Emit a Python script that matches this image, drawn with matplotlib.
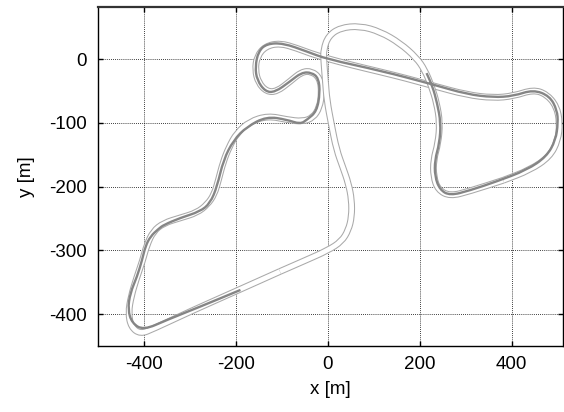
import matplotlib
matplotlib.use("Agg")
import matplotlib.pyplot as plt
import matplotlib.patheffects as pe
from matplotlib.path import Path
from matplotlib.patches import PathPatch
import numpy as np

plt.rcParams['font.family'] = ['Liberation Sans', 'DejaVu Sans']
plt.rcParams['axes.unicode_minus'] = False

# track centre line, part 1: bottom straight -> hairpin -> S-curves -> loop -> long straight -> right hairpin
track_a_x = [-104, -200, -300, -380, -408, -428, -434, -428, -416, -403, -394, -380, -357, -321,
             -285, -262, -247, -238, -228, -215, -198, -170, -130, -89, -55, -32, -18, -13, -17,
             -35, -57, -82, -111, -133, -151, -158, -154, -136, -104, -67, -38, -2, 50, 114, 170,
             230, 302, 360, 404, 447, 476, 498, 505, 501, 483, 440, 382]
track_a_y = [-333, -364, -396, -423, -431, -420, -398, -372, -343, -316, -292, -270, -257, -249,
             -241, -228, -212, -190, -162, -138, -116, -98, -89, -95, -98, -92, -76, -53, -30,
             -19, -20, -35, -51, -51, -37, -17, 4, 20, 25, 17, 9, 1, -9, -20, -30,
             -42, -56, -61, -58, -48, -55, -74, -100, -127, -153, -174, -190]

# track centre line, part 2: bottom right -> climb -> top arc -> descent -> back to bottom straight
track_b_x = [382, 309, 266, 240, 230, 230, 240, 244, 237, 226, 211, 193, 157, 114, 70, 27, 1,
             -9, -9, -5, -2, 8, 19, 33, 45, 52, 52, 45, 30, 0, -50, -104]
track_b_y = [-190, -207, -215, -205, -184, -158, -132, -100, -69, -43, -17, 2, 25, 43, 52, 49, 36,
             15, -1, -35, -64, -103, -142, -170, -195, -221, -247, -268, -286, -300, -316, -333]

# driven line
line_x = [-190, -277, -350, -401, -426, -435, -430, -415, -404, -397, -386, -368, -357, -321,
          -278, -256, -241, -227, -205, -176, -133, -89, -60, -45, -24, -17, -20, -35, -57, -82,
          -115, -136, -154, -158, -151, -133, -97, -46, -2, 114, 230, 302, 360, 404, 447, 483,
          499, 501, 496, 476, 433, 367, 309, 266, 244, 233, 233, 243, 246, 238, 228, 215]
line_y = [-362, -388, -409, -425, -414, -393, -367, -341, -315, -294, -278, -266, -260, -249,
          -239, -226, -200, -158, -127, -106, -90, -95, -102, -95, -82, -53, -30, -21, -21, -35,
          -52, -51, -33, -12, 12, 24, 25, 12, 0, -18, -40, -55, -60, -58, -48, -58,
          -80, -100, -127, -153, -174, -192, -206, -214, -205, -184, -158, -132, -100, -69, -43, -22]


def smooth_path(xs, ys):
    p = np.column_stack([xs, ys]).astype(float)
    mids = (p[:-1] + p[1:]) / 2
    verts = [p[0], mids[0]]
    codes = [Path.MOVETO, Path.LINETO]
    for i in range(1, len(p) - 1):
        verts += [p[i], mids[i]]
        codes += [Path.CURVE3, Path.CURVE3]
    verts.append(p[-1])
    codes.append(Path.LINETO)
    return Path(verts, codes)


fig = plt.figure(figsize=(5.64, 4.12), dpi=100)
ax = fig.add_axes([0.1738, 0.160, 0.8245, 0.822])

edge = [pe.Stroke(linewidth=4.9, foreground='#a9a9a9', capstyle='butt'), pe.Normal()]
for xs, ys in [(track_a_x, track_a_y), (track_b_x, track_b_y)]:
    patch = PathPatch(smooth_path(xs, ys), fill=False, edgecolor='white', linewidth=3.4,
                      capstyle='butt', joinstyle='round', zorder=3)
    patch.set_path_effects(edge)
    ax.add_patch(patch)

ax.add_patch(PathPatch(smooth_path(line_x, line_y), fill=False, edgecolor='#858585',
                       linewidth=1.7, joinstyle='round', zorder=4))

ax.set_xlim(-500, 512)
ax.set_ylim(-450, 81)
ax.set_xticks([-400, -200, 0, 200, 400])
ax.set_yticks([0, -100, -200, -300, -400])
ax.grid(True, color='black', linestyle=(0, (1, 1.5)), linewidth=0.6)
ax.set_axisbelow(True)
ax.tick_params(direction='in', top=True, right=True, length=3.5, width=1,
               labelsize=13.5)
ax.tick_params(axis='x', pad=7)
ax.tick_params(axis='y', pad=8)
for s in ax.spines.values():
    s.set_linewidth(1)
ax.spines['top'].set_linewidth(1.6)
ax.spines['top'].set_color('#333333')

ax.set_xlabel('x [m]', fontsize=13.5, labelpad=6)
ax.set_ylabel('y [m]', fontsize=13.5, labelpad=10)

fig.savefig('out.png', dpi=100)
